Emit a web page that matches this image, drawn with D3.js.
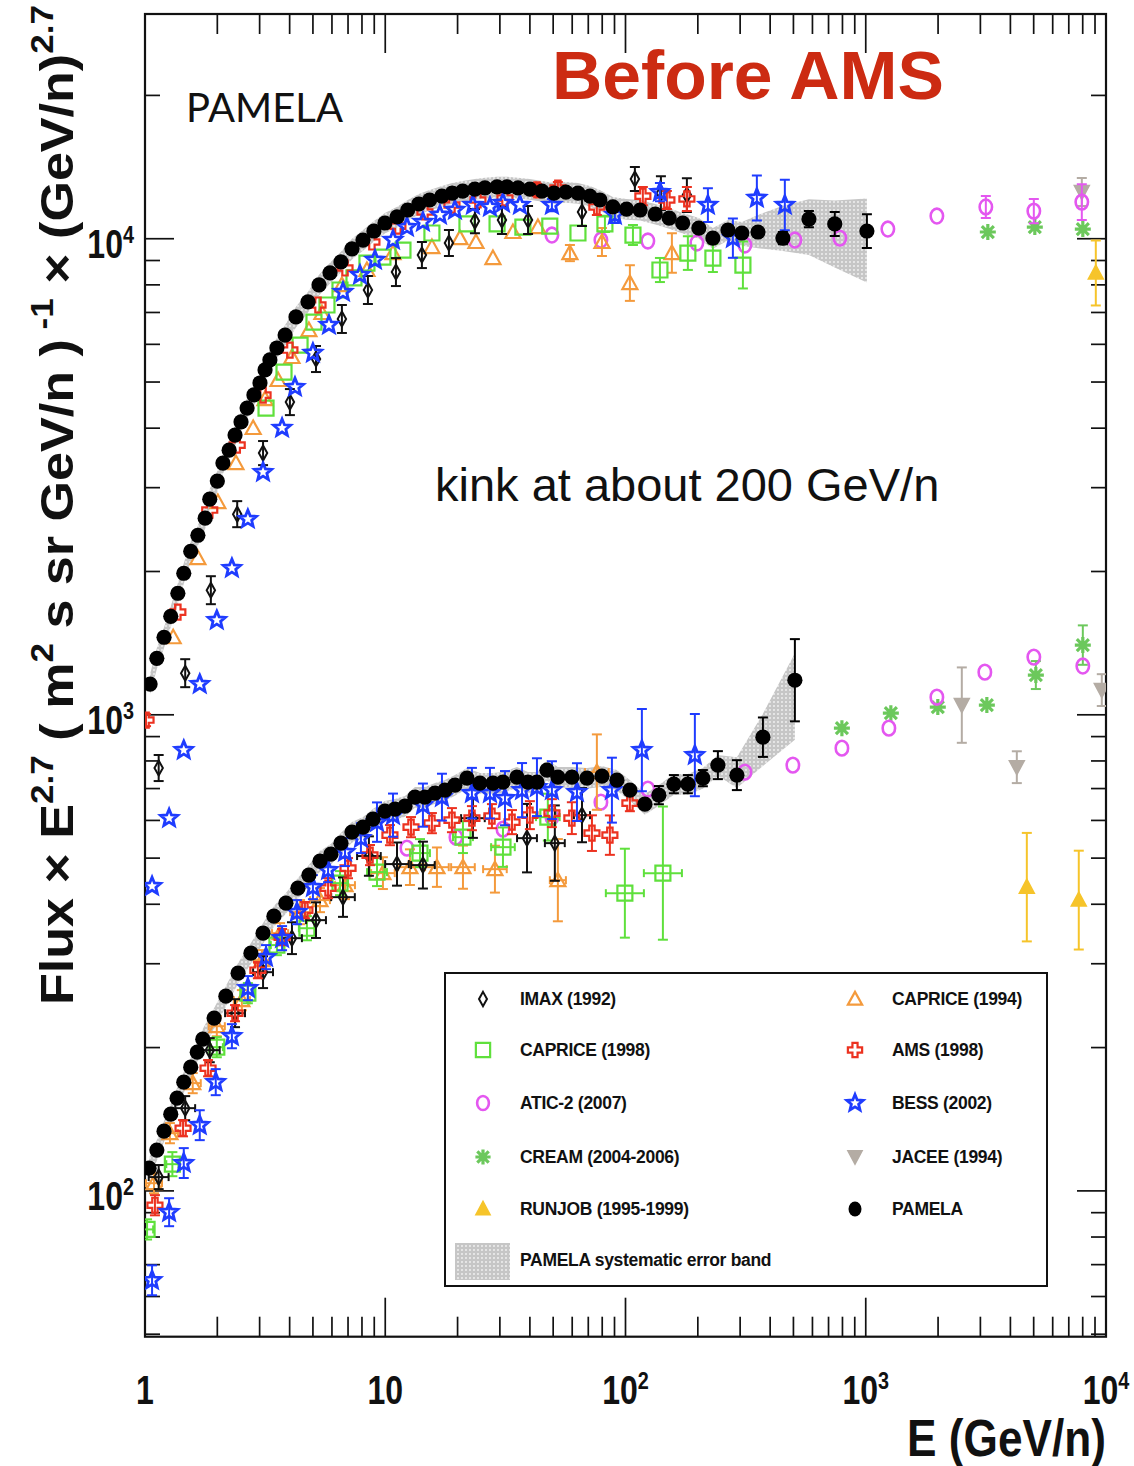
<!DOCTYPE html>
<html>
<head>
<meta charset="utf-8">
<script src="https://cdn.jsdelivr.net/npm/d3@7"></script>
<style>
  body { margin: 0; background: #fff; }
  svg { display: block; }
</style>
</head>
<body>
<svg id="chart" width="1134" height="1466"></svg>
<script>
// ---------------------------------------------------------------------------
// Proton (upper group) and helium (lower group) spectra, Flux x E^2.7.
// Rows: [E (GeV/n), Flux x E^2.7, relative y error, x error factor]
// ---------------------------------------------------------------------------

// PAMELA rows: [E, F, stat error, sys down, sys up]
const pamelaProton = [
  [1.05,1160],[1.12,1314],[1.20,1455],[1.28,1610],[1.37,1800],[1.45,1983],[1.55,2205],
  [1.66,2383],[1.78,2588],[1.86,2837],[2.00,3097],[2.11,3379],[2.24,3597],[2.37,3869],
  [2.51,4122],[2.66,4409],[2.84,4698],[3.01,4977],[3.16,5301],[3.31,5564],[3.54,5895],
  [3.83,6276],[4.25,6850],[4.77,7368],[5.30,8002],[5.89,8479],[6.54,8938],[7.27,9521],
  [8.08,9937],[8.97,10380],[9.97,10790],[11.2,11110],[12.4,11490],[13.8,11830],[15.3,12060],
  [17.2,12290],[19.0,12470],[21.0,12590],[23.6,12710],[26.0,12790],[29.2,12850],[32.1,12850],
  [35.7,12790],[40.0,12710],[44.9,12590],[50.4,12470],[56.5,12530],[63.4,12470],[71.1,12290],
  [78.2,12060],[88.6,11660],[101,11540],[115,11490],[133,11270],[152,11050],[173,10790],
  [202,10530],[231,10030],[267,10430],[305,10280,0.02,0.06,0.055],[356,10330,0.02,0.075,0.086],
  [452,10030,0.03,0.06,0.17],[580,11000,0.04,0.16,0.10],[743,10740,0.06,0.19,0.12],
  [1011,10380,0.085,0.22,0.17]
];
const pamelaHelium = [
  [1.04,111.6],[1.12,121.8],[1.20,133.5],[1.28,144.9],[1.36,156.6],[1.45,169.2],[1.55,181.9],
  [1.65,195.6],[1.74,208.3],[1.94,230.6],[2.17,256.5],[2.44,286.6],[2.76,315.8],[3.10,347.8],
  [3.44,377.6],[3.86,402.1],[4.33,432.3],[4.81,460.4],[5.35,492.7],[5.94,509.7],[6.54,537.6],
  [7.27,567.0],[8.08,580.8],[8.89,603.7],[9.97,627.5],[10.97,633.6],[12.08,642.9],[13.29,671.5],
  [14.63,671.5],[16.10,684.6],[17.72,694.6],[19.50,711.6],[21.88,736.1],[24.78,718.5],
  [28.07,718.5],[30.90,722.0],[35.33,739.7],[39.26,722.0],[42.79,722.0],[47.10,765.2],
  [52.33,739.7],[59.84,739.7],[69.10,736.1],[79.78,743.3],[92.10,729.1],[104.3,694.6],
  [120.4,649.2,0.02],[137.7,678.0,0.045],[159.0,715.0,0.045],[181.8,715.0,0.045],
  [209.9,736.1,0.04],[242.4,783.9,0.07],[290.8,746.9,0.075,0.06,0.09],
  [373.2,897.4,0.10,0.13,0.12],[507.0,1182,0.22,0.25,0.14]
];
const pamelaSysDefault = 0.05;

const imaxProton = [
  [1.14,773,0.065],[1.47,1223,0.07],[1.88,1827,0.07],[2.42,2639,0.065],[3.10,3546,0.06],
  [4.01,4538,0.065],[5.15,5589,0.065],[6.60,6783,0.07],[8.47,7803,0.07],[11.08,8511,0.07],
  [14.21,9241,0.065],[18.41,9795,0.065],[23.62,10890,0.06],[30.6,10950,0.07],[39.3,10950,0.07],
  [65.9,11380,0.07],[109.4,13350,0.06],[140.4,12470,0.085],[180.1,12350,0.085]
];
const imaxHelium = [
  [1.14,106.9,0.06,1.1],[1.47,149.2,0.06,1.1],[1.86,197.5,0.06,1.1],[2.37,236.2,0.07,1.1],
  [3.10,288.0,0.08,1.1],[4.09,339.5,0.08,1.1],[5.15,370.4,0.09,1.1],[6.67,414.0,0.10,1.12],
  [8.55,505.0,0.10,1.12],[11.19,485.8,0.11,1.12],[14.35,483.4,0.12,1.12],[23.17,606.6,0.10,1.12],
  [38.9,550.7,0.18,1.1],[50.8,537.6,0.2,1.1],[65.9,615.5,0.14,1.08]
];

const caprice94Proton = [
  [1.31,1455],[1.66,2134],[2.01,2798],[2.39,3379],[2.82,4003],[3.16,4605],[3.58,5049],
  [4.09,5643],[4.81,6430],[5.45,6982],[6.60,7993],[8.39,8596],[10.77,9331],[15.64,9605],
  [20.46,10030],[23.85,9843],[28.07,9108],[34.0,10330],[43.2,10580],[58.7,9331,0.04],
  [79.8,9843,0.07],[104.3,8070,0.09],[156.0,9331,0.10]
];
const caprice94Helium = [
  [1.09,103.8,0.05,1.08],[1.27,132.2,0.05,1.08],[1.58,168.4,0.05,1.08],[1.99,221.8,0.05,1.08],
  [2.53,251.5,0.05,1.08],[3.07,305.2,0.05,1.08],[3.65,347.8,0.05,1.08],[4.42,385.0,0.06,1.1],
  [5.35,408.1,0.06,1.1],[6.80,438.7,0.07,1.1],[9.78,465.0,0.08,1.12],[12.67,478.6,0.09,1.12],
  [16.41,478.6,0.10,1.12],[21.06,478.6,0.11,1.12],[28.61,474.0,0.12,1.12],[52.3,449.4,0.22,1.08],
  [76.0,758.0,0.2,1.12]
];

const caprice98Proton = [
  [3.19,4409],[3.79,5248],[4.42,5979],[5.05,6683],[5.72,7258],[6.48,7803],[7.41,8271],
  [8.39,8890],[9.78,9152],[11.85,9468],[15.64,10280],[21.88,10740],[29.2,10740],[37.4,10580],
  [48.4,10630],[63.4,10280],[82.1,10740,0.04],[107.4,10180,0.05],[139.1,8596,0.06],
  [181.8,9331,0.085],[231.1,9108,0.07],[308.1,8805,0.12]
];
const caprice98Helium = [
  [1.02,83.0,0.05,1.06],[1.30,113.8,0.06,1.06],[1.99,200.4,0.05,1.06],[2.68,260.2,0.05,1.06],
  [3.54,328.3,0.05,1.06],[4.72,356.2,0.06,1.08],[6.48,443.0,0.06,1.08],[9.24,467.3,0.07,1.1],
  [13.95,512.3,0.07,1.1],[21.06,553.4,0.08,1.1],[30.90,527.2,0.1,1.12],[47.5,609.6,0.12,1.12],
  [99.4,422.0,0.24,1.2],[143.1,465.0,0.38,1.2]
];

const amsProton = [
  [1.01,975,0.03],[1.37,1643],[1.86,2692],[2.42,3686],[3.10,4694],[4.01,5836],[5.25,7258],
  [6.80,8679],[8.80,9843],[11.29,10630],[14.63,11380],[18.95,11770],[24.31,12060],[31.5,12180],
  [42.8,12660,0.03],[52.3,12780,0.03],[76.0,11660,0.04],[118.1,12290,0.045],[148.7,12060,0.045],
  [180.1,12120,0.06]
];
const amsHelium = [
  [1.10,93.3,0.05],[1.44,135.4,0.04],[1.83,181.0,0.04],[2.37,236.2,0.04],[2.95,290.8,0.04],
  [3.72,341.2,0.04],[4.63,388.8,0.04],[5.78,432.4,0.05],[7.00,476.3,0.05],[8.64,507.4,0.05],
  [10.46,558.8,0.05],[12.80,580.8,0.05],[15.64,592.2,0.05],[18.95,600.8,0.06],[22.95,606.6,0.06],
  [27.80,612.5,0.06],[33.7,595.1,0.06],[40.0,615.5,0.07],[49.4,621.5,0.07],[59.8,606.6,0.08],
  [72.5,564.2,0.09],[86.1,558.8,0.10],[104.3,652.4,0.04]
];

const bessProton = [
  [1.07,436.5],[1.26,606.6],[1.45,843],[1.69,1160],[1.99,1581],[2.30,2033],[2.68,2577],
  [3.10,3234],[3.72,4003],[4.21,4880],[5.00,5754],[5.83,6588],[6.67,7727],[7.85,8390],
  [9.06,9022],[10.77,9937],[12.31,10580],[14.35,10840],[16.89,11220],[19.50,11490],
  [23.17,11770],[27.28,11660],[30.90,11890],[36.36,11770],[49.4,11770,0.03],[90.3,11220,0.04],
  [139.1,12530,0.045],[220.3,11770,0.085],[279.9,10030,0.1],[352.2,12180,0.115],[460.5,11770,0.13]
];
const bessHelium = [
  [1.07,64.9,0.075],[1.26,90.2,0.07],[1.45,114.4,0.075],[1.69,137.4,0.075],[1.97,169.2,0.065],
  [2.30,211.3,0.06],[2.68,266.6,0.06],[3.19,309.7,0.06],[3.72,339.5,0.06],[4.29,385.0,0.06],
  [5.00,434.5,0.06],[5.78,471.8,0.06],[6.80,514.8,0.07],[7.92,550.7,0.075],[9.24,595.1,0.10],
  [10.77,615.5,0.11],[14.35,646.1,0.11],[17.22,671.5,0.12],[22.95,684.6,0.13],[27.28,684.6,0.13],
  [31.5,668.2,0.14],[37.1,694.6,0.14],[42.8,704.7,0.15],[49.4,694.6,0.15],[62.8,688.0,0.15],
  [87.8,694.6,0.17],[117.0,843.0,0.22],[194.4,822.9,0.22]
];

const aticProton = [
  [49.4,10180],[79.0,9937],[123.9,9890],[198.2,9795],[314.0,9700],[507.0,9937],[780.2,10030],
  [1236,10480],[1977,11160],[3161,11660,0.055],[5007,11430,0.06],[7931,11940,0.09]
];
const aticHelium = [
  [12.31,524.7],[19.69,553.4],[30.90,575.2],[49.4,609.6],[79.0,655.5],[123.9,698.0],
  [314.0,757.8],[497.3,783.9],[795.7,851.1],[1248,937.6],[1977,1089],[3131,1229],[5007,1322],
  [8008,1266]
];

const creamProton = [[3222,10330],[5055,10580],[8008,10480]];
const creamHelium = [[795.7,937.6],[1272,1008],[1995,1038],[3192,1048],[5105,1212,0.07],[8008,1401,0.1]];

const jaceeProton = [[7931,12530,0.07]];
const jaceeHelium = [[2511,1048,0.2],[4254,776.2,0.08],[9605,1127,0.08]];

const runjobProton = [[9069,8472,0.17]];
const runjobHelium = [[4682,434.5,0.3],[7704,408.1,0.27]];

// Legend order (two columns)
const legendLeft  = ["IMAX (1992)", "CAPRICE (1998)", "ATIC-2 (2007)", "CREAM (2004-2006)", "RUNJOB (1995-1999)"];
const legendRight = ["CAPRICE (1994)", "AMS (1998)", "BESS (2002)", "JACEE (1994)", "PAMELA"];
const bandLabel = "PAMELA systematic error band";

const xTickLabels = [[1,"1",""],[10,"10",""],[100,"10","2"],[1000,"10","3"],[10000,"10","4"]];
const yTickLabels = [[100,"10","2"],[1000,"10","3"],[10000,"10","4"]];

// ---------------------------------------------------------------------------
const svg = d3.select("#chart");
const plot = { left: 145, right: 1106, top: 14, bottom: 1336.7 };
const x = d3.scaleLog().domain([1, 1e4]).range([plot.left, plot.right]);
const y = d3.scaleLog().domain([49.4, 29650]).range([plot.bottom, plot.top]);

const defs = svg.append("defs");
defs.append("clipPath").attr("id", "plotClip").append("rect")
  .attr("x", plot.left).attr("y", plot.top)
  .attr("width", plot.right - plot.left).attr("height", plot.bottom - plot.top);
const pat = defs.append("pattern").attr("id", "bandPat")
  .attr("patternUnits", "userSpaceOnUse").attr("width", 4).attr("height", 4);
pat.append("rect").attr("width", 4).attr("height", 4).attr("fill", "#c6c6c6");
pat.append("circle").attr("cx", 2).attr("cy", 2).attr("r", 1.05).attr("fill", "#ededed");
defs.append("filter").attr("id", "soft").append("feGaussianBlur").attr("stdDeviation", 0.7);

// marker shapes, centred on the data point
function starPath(ro, ri) {
  const pts = d3.range(10).map(i => {
    const a = -Math.PI / 2 + i * Math.PI / 5, r = i % 2 ? ri : ro;
    return [r * Math.cos(a), r * Math.sin(a)];
  });
  return "M" + pts.map(p => p[0].toFixed(2) + "," + p[1].toFixed(2)).join("L") + "Z";
}
const shapes = {
  diamond:  "M0,-7.5L4.2,0L0,7.5L-4.2,0Z",
  triUp:    "M0,-7.5L7.5,6L-7.5,6Z",
  square:   "M-7.5,-7.5H7.5V7.5H-7.5Z",
  cross:    "M-2.7,-7.5H2.7V-2.7H7.5V2.7H2.7V7.5H-2.7V2.7H-7.5V-2.7H-2.7Z",
  star:     starPath(9, 4),
  circle:   "M0,-7.4A6.2,7.4 0 1,1 0,7.4A6.2,7.4 0 1,1 0,-7.4Z",
  asterisk: "M-8,0H8M0,-8V8M-6,-6L6,6M-6,6L6,-6",
  triDown:  "M-7.5,-6.5H7.5L0,7.5Z",
  triUpFill:"M0,-8L7.5,6H-7.5Z"
};

const series = [
  { name: "JACEE (1994)",       color: "#b4aca4", shape: "triDown",  filled: true,  sw: 1.5, data: [jaceeProton, jaceeHelium] },
  { name: "RUNJOB (1995-1999)", color: "#f6c42a", shape: "triUpFill",filled: true,  sw: 1.5, data: [runjobProton, runjobHelium] },
  { name: "CREAM (2004-2006)",  color: "#6cc85c", shape: "asterisk", filled: false, sw: 3.2, data: [creamProton, creamHelium] },
  { name: "ATIC-2 (2007)",      color: "#e457f0", shape: "circle",   filled: false, sw: 2.6, data: [aticProton, aticHelium] },
  { name: "CAPRICE (1994)",     color: "#f49a3c", shape: "triUp",    filled: false, sw: 2.2, data: [caprice94Proton, caprice94Helium] },
  { name: "CAPRICE (1998)",     color: "#5fe03c", shape: "square",   filled: false, sw: 2.2, data: [caprice98Proton, caprice98Helium] },
  { name: "IMAX (1992)",        color: "#111111", shape: "diamond",  filled: false, sw: 2.0, data: [imaxProton, imaxHelium] },
  { name: "AMS (1998)",         color: "#ec3220", shape: "cross",    filled: false, sw: 2.2, data: [amsProton, amsHelium] },
  { name: "BESS (2002)",        color: "#1f3cff", shape: "star",     filled: false, sw: 2.8, data: [bessProton, bessHelium] }
];
const byName = Object.fromEntries(series.map(s => [s.name, s]));

// ---------------------------------------------------------------------------
// frame, ticks and tick labels
const axes = svg.append("g").attr("stroke", "#111").attr("fill", "none");
const isDecade = v => Math.abs(Math.log10(v) - Math.round(Math.log10(v))) < 1e-6;
x.ticks().forEach(v => {
  const px = x(v), len = isDecade(v) ? 39 : 20;
  axes.append("line").attr("x1", px).attr("x2", px).attr("y1", plot.bottom).attr("y2", plot.bottom - len).attr("stroke-width", 1.7);
  axes.append("line").attr("x1", px).attr("x2", px).attr("y1", plot.top).attr("y2", plot.top + len).attr("stroke-width", 1.7);
});
y.ticks().forEach(v => {
  const py = y(v), len = isDecade(v) ? 29 : 15;
  axes.append("line").attr("y1", py).attr("y2", py).attr("x1", plot.left).attr("x2", plot.left + len).attr("stroke-width", 1.7);
  axes.append("line").attr("y1", py).attr("y2", py).attr("x1", plot.right).attr("x2", plot.right - len).attr("stroke-width", 1.7);
});
axes.append("rect").attr("x", plot.left).attr("y", plot.top)
  .attr("width", plot.right - plot.left).attr("height", plot.bottom - plot.top)
  .attr("stroke-width", 2.2);

const tickFont = "'Liberation Sans', Arial, Helvetica, sans-serif";
function powerLabel(g, base, exp, fs) {
  const t = g.append("text").attr("font-family", tickFont).attr("font-weight", 700)
    .attr("font-size", fs).attr("fill", "#111");
  t.append("tspan").text(base);
  if (exp) t.append("tspan").attr("dy", -fs * 0.38).attr("font-size", fs * 0.62).text(exp);
  return t;
}
xTickLabels.forEach(([v, b, e]) => {
  const g = svg.append("g").attr("transform", `translate(${x(v)},1404) scale(0.8,1)`);
  powerLabel(g, b, e, 40).attr("text-anchor", "middle");
});
yTickLabels.forEach(([v, b, e]) => {
  const g = svg.append("g").attr("transform", `translate(134,${y(v) + 19}) scale(0.8,1)`);
  powerLabel(g, b, e, 40).attr("text-anchor", "end");
});

// axis titles
const yTitle = svg.append("text")
  .attr("transform", "translate(73,1005) rotate(-90)")
  .attr("font-family", tickFont).attr("font-weight", 700).attr("font-size", 46).attr("fill", "#111")
  .attr("textLength", 1000).attr("lengthAdjust", "spacingAndGlyphs");
[["Flux \u00d7 E", 0], ["2.7", 1], [" ( m", 0], ["2", 1], [" s sr GeV/n )", 0], [" -1", 1],
 [" \u00d7 (GeV/n)", 0], ["2.7", 1]].forEach(([s, sup], i, arr) => {
  const prevSup = i > 0 && arr[i - 1][1];
  yTitle.append("tspan")
    .attr("dy", sup ? -20 : (prevSup ? 20 : 0))
    .attr("font-size", sup ? 31 : 46).text(s);
});
svg.append("g").attr("transform", "translate(1106,1456) scale(0.85,1)")
  .append("text").attr("text-anchor", "end").attr("font-family", tickFont)
  .attr("font-weight", 700).attr("font-size", 52).attr("fill", "#111").text("E (GeV/n)");

// annotations
svg.append("text").attr("x", 552).attr("y", 99).attr("font-family", tickFont)
  .attr("font-weight", 700).attr("font-size", 69).attr("fill", "#cc2b12")
  .attr("textLength", 392).attr("lengthAdjust", "spacingAndGlyphs").text("Before AMS");
svg.append("text").attr("x", 186).attr("y", 122).attr("font-family", "Lato, 'Open Sans', sans-serif")
  .attr("font-size", 40).attr("fill", "#111").text("PAMELA");
svg.append("text").attr("x", 435).attr("y", 501).attr("font-family", tickFont)
  .attr("font-size", 47).attr("fill", "#111").text("kink at about 200 GeV/n");

// ---------------------------------------------------------------------------
// data layer
const dataG = svg.append("g").attr("clip-path", "url(#plotClip)");

// PAMELA systematic band (drawn first, behind the points)
const band = d3.area()
  .x(d => x(d[0]))
  .y0(d => y(d[1] * (1 - (d[3] ?? pamelaSysDefault))))
  .y1(d => y(d[1] * (1 + (d[4] ?? pamelaSysDefault))));
[pamelaProton, pamelaHelium].forEach(rows => {
  dataG.append("path").attr("d", band(rows)).attr("fill", "url(#bandPat)").attr("filter", "url(#soft)");
});

function errorBars(g, rows, color, sw) {
  rows.forEach(d => {
    const [E, F, e, xf] = d;
    const cx = x(E), cy = y(F);
    if (e) {
      const yt = y(F * (1 + e)), yb = y(F / (1 + e));
      g.append("line").attr("x1", cx).attr("x2", cx).attr("y1", yt).attr("y2", yb)
        .attr("stroke", color).attr("stroke-width", sw);
      [yt, yb].forEach(yy => g.append("line").attr("x1", cx - 5).attr("x2", cx + 5)
        .attr("y1", yy).attr("y2", yy).attr("stroke", color).attr("stroke-width", sw));
    }
    if (xf) {
      const xl = x(E / xf), xr = x(E * xf);
      g.append("line").attr("x1", xl).attr("x2", xr).attr("y1", cy).attr("y2", cy)
        .attr("stroke", color).attr("stroke-width", sw);
      [xl, xr].forEach(xx => g.append("line").attr("x1", xx).attr("x2", xx)
        .attr("y1", cy - 4).attr("y2", cy + 4).attr("stroke", color).attr("stroke-width", sw));
    }
  });
}
function drawMarker(g, s, cx, cy, k = 1) {
  g.append("path").attr("d", shapes[s.shape])
    .attr("transform", `translate(${cx},${cy}) scale(${k})`)
    .attr("fill", s.filled ? s.color : (s.shape === "asterisk" ? "none" : "#fff"))
    .attr("fill-opacity", s.filled ? 1 : 0)
    .attr("stroke", s.color).attr("stroke-width", s.sw / k)
    .attr("stroke-linejoin", "miter");
}

series.forEach(s => {
  const g = dataG.append("g");
  s.data.forEach(rows => {
    errorBars(g, rows, s.color, 2);
    rows.forEach(d => drawMarker(g, s, x(d[0]), y(d[1])));
  });
});

// PAMELA points on top
[pamelaProton, pamelaHelium].forEach(rows => {
  const g = dataG.append("g");
  errorBars(g, rows.filter(d => d[2]).map(d => [d[0], d[1], d[2]]), "#000", 2);
  g.selectAll("circle").data(rows).join("circle")
    .attr("cx", d => x(d[0])).attr("cy", d => y(d[1])).attr("r", 7.6).attr("fill", "#000");
});

// ---------------------------------------------------------------------------
// legend
const lg = svg.append("g");
lg.append("rect").attr("x", 445).attr("y", 973).attr("width", 602).attr("height", 313)
  .attr("fill", "#fff").attr("stroke", "#111").attr("stroke-width", 2);
const rowY = [999, 1050, 1103, 1157, 1209];
const legendText = (tx, ty, label) => lg.append("text").attr("x", tx).attr("y", ty + 6)
  .attr("font-family", tickFont).attr("font-weight", 700).attr("font-size", 17.5)
  .attr("letter-spacing", -0.3).attr("fill", "#111").text(label);
legendLeft.forEach((name, i) => {
  drawMarker(lg, byName[name], 483, rowY[i], 0.95);
  legendText(520, rowY[i], name);
});
legendRight.forEach((name, i) => {
  if (name === "PAMELA") lg.append("ellipse").attr("cx", 855).attr("cy", rowY[i]).attr("rx", 6.5).attr("ry", 7.5).attr("fill", "#000");
  else drawMarker(lg, byName[name], 855, rowY[i], 0.95);
  legendText(892, rowY[i], name);
});
lg.append("rect").attr("x", 455).attr("y", 1243).attr("width", 55).attr("height", 37)
  .attr("fill", "url(#bandPat)").attr("filter", "url(#soft)");
legendText(520, 1260, bandLabel);
</script>
</body>
</html>
